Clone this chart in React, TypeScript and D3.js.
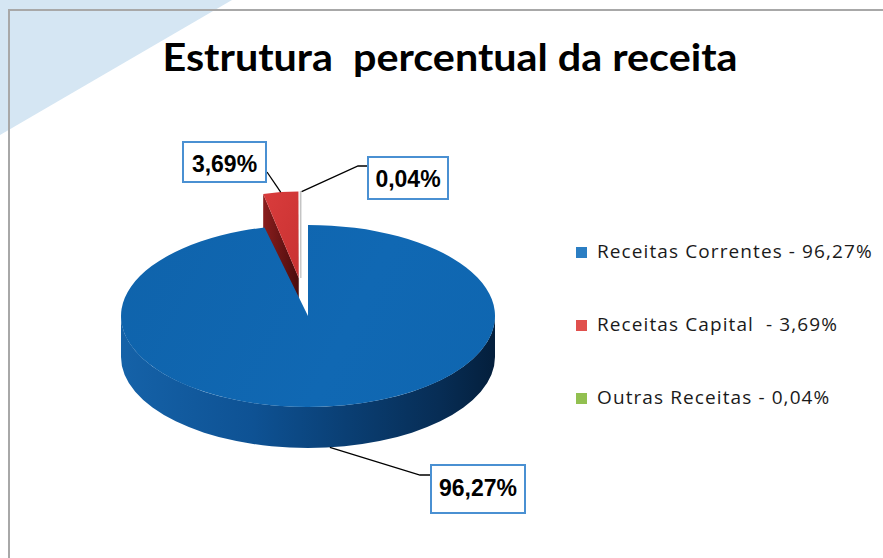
import React from 'react';
import * as d3 from 'd3';

const categories = ['Receitas Correntes', 'Receitas Capital', 'Outras Receitas'];
const values = [96.27, 3.69, 0.04];
const valueLabels = ['96,27%', '3,69%', '0,04%'];
const legendLabels = ['Receitas Correntes - 96,27%', 'Receitas Capital  - 3,69%', 'Outras Receitas - 0,04%'];
const exploded = [false, true, true];
const titleText = 'Estrutura  percentual da receita';

const W = 883, H = 558;
const CX = 308, CY = 316, RX = 187, RY = 91, DEPTH = 41;
const EXPLODE = 0.42;
const EXP_SX = 0.82, EXP_SY = 0.95, EXP_SD = 0.88;

const topColors = ['#0f66b0', '#d63b3b', '#eeeeee'];
const faceColors = ['#0b4a86', '#6e1414', '#bdbdbd'];
const legendColors = ['#2b7ec3', '#e0504d', '#92c050'];

const boxes = [
  { x: 431, y: 465, w: 94, h: 48, base: 496, elbow: [420, 475], end: [431, 475] },
  { x: 183, y: 142, w: 83, h: 40, base: 172, elbow: null, end: [267, 172] },
  { x: 368, y: 157, w: 80, h: 42, base: 187, elbow: [358, 166], end: [368, 166] },
];

type Geo = { cx: number; cy: number; rx: number; ry: number; d: number };

const pt = (g: Geo, a: number, dy = 0): [number, number] => [g.cx + g.rx * Math.sin(a), g.cy - g.ry * Math.cos(a) + dy];
const P = (p: [number, number]) => `${p[0].toFixed(2)},${p[1].toFixed(2)}`;

function topPath(g: Geo, a0: number, a1: number) {
  const large = a1 - a0 > Math.PI ? 1 : 0;
  return `M${g.cx},${g.cy}L${P(pt(g, a0))}A${g.rx},${g.ry} 0 ${large} 1 ${P(pt(g, a1))}Z`;
}
function wallPath(g: Geo, a0: number, a1: number) {
  const s = Math.max(a0, Math.PI / 2);
  const e = Math.min(a1, (3 * Math.PI) / 2);
  if (e <= s) return null;
  const large = e - s > Math.PI ? 1 : 0;
  return `M${P(pt(g, s))}A${g.rx},${g.ry} 0 ${large} 1 ${P(pt(g, e))}L${P(pt(g, e, g.d))}A${g.rx},${g.ry} 0 ${large} 0 ${P(pt(g, s, g.d))}Z`;
}
function facePath(g: Geo, a: number) {
  const p = pt(g, a);
  return `M${g.cx},${g.cy}L${P(p)}L${p[0]},${p[1] + g.d}L${g.cx},${g.cy + g.d}Z`;
}

export default function App() {
  const arcs = d3.pie<number>().sort(null).startAngle(0).endAngle(2 * Math.PI)(values);
  const expArcs = arcs.filter((_, i) => exploded[i]);
  const gStart = d3.min(expArcs, (a) => a.startAngle)!;
  const gEnd = d3.max(expArcs, (a) => a.endAngle)!;
  const gMid = (gStart + gEnd) / 2;
  const base: Geo = { cx: CX, cy: CY, rx: RX, ry: RY, d: DEPTH };
  const expGeo: Geo = {
    cx: CX + EXPLODE * RX * Math.sin(gMid),
    cy: CY - EXPLODE * RY * Math.cos(gMid),
    rx: RX * EXP_SX,
    ry: RY * EXP_SY,
    d: DEPTH * EXP_SD,
  };
  const geoOf = (i: number) => (exploded[i] ? expGeo : base);

  const renderSlice = (i: number) => {
    const a = arcs[i];
    const g = geoOf(i);
    const parts: React.ReactNode[] = [];
    const w = wallPath(g, a.startAngle, a.endAngle);
    if (w) parts.push(<path key="w" d={w} fill={i === 0 ? 'url(#sideBlue)' : faceColors[i]} />);
    if (Math.sin(a.startAngle) < -1e-6)
      parts.push(<path key="fs" d={facePath(g, a.startAngle)} fill={i === 1 ? 'url(#faceRed)' : faceColors[i]} />);
    if (Math.sin(a.endAngle) > 1e-6)
      parts.push(<path key="fe" d={facePath(g, a.endAngle)} fill={faceColors[i]} />);
    parts.push(
      <path
        key="t"
        d={topPath(g, a.startAngle, a.endAngle)}
        fill={i === 0 ? 'url(#topBlue)' : i === 1 ? 'url(#topRed)' : topColors[i]}
        stroke={i === 2 ? '#c4c4c4' : 'none'}
        strokeWidth={i === 2 ? 1.3 : 0}
        transform={i === 2 ? 'translate(2,0)' : undefined}
      />
    );
    return <g key={categories[i]}>{parts}</g>;
  };

  const anchors = arcs.map((a, i) => {
    const mid = (a.startAngle + a.endAngle) / 2;
    const g = geoOf(i);
    if (i === 0) return pt(g, mid, g.d);
    const p = pt(g, mid);
    return i === 2 ? ([p[0] + 3, p[1]] as [number, number]) : p;
  });

  return (
    <svg width={W} height={H} style={{ position: 'absolute', left: 0, top: 0, background: '#fff' }}>
      <defs>
        <linearGradient id="sideBlue" gradientUnits="userSpaceOnUse" x1={CX - RX} x2={CX + RX} y1={0} y2={0}>
          <stop offset="0" stopColor="#1562a8" />
          <stop offset="0.35" stopColor="#0e5294" />
          <stop offset="0.6" stopColor="#0a3f74" />
          <stop offset="0.85" stopColor="#072d55" />
          <stop offset="1" stopColor="#041f3c" />
        </linearGradient>
        <linearGradient id="topBlue" gradientUnits="userSpaceOnUse" x1={CX - RX} x2={CX + RX} y1={CY - RY} y2={CY + RY}>
          <stop offset="0" stopColor="#0f63ab" />
          <stop offset="0.6" stopColor="#1068b3" />
          <stop offset="1" stopColor="#0f66b0" />
        </linearGradient>
        <linearGradient id="topRed" x1="0" x2="1" y1="0" y2="1">
          <stop offset="0" stopColor="#d93c3c" />
          <stop offset="1" stopColor="#c93232" />
        </linearGradient>
        <linearGradient id="faceRed" x1="0" x2="1" y1="0" y2="0">
          <stop offset="0" stopColor="#8a1d1d" />
          <stop offset="1" stopColor="#4a0c0c" />
        </linearGradient>
      </defs>
      <rect x={0} y={0} width={W} height={H} fill="#ffffff" />
      <path d={`M0,0L232,0L0,135Z`} fill="#d5e6f3" />
      <rect x={9} y={10} width={W + 20} height={H + 20} fill="none" stroke="#a8a8a8" strokeWidth={2} />

      <text
        x={450}
        y={71}
        textAnchor="middle"
        fontFamily="Lato, 'Open Sans', sans-serif"
        fontWeight="bold"
        fontSize={38}
        fill="#000"
        textLength={575}
        lengthAdjust="spacingAndGlyphs"
        style={{ whiteSpace: 'pre' }}
      >
        {titleText}
      </text>

      {arcs.map((_, i) => (exploded[i] ? renderSlice(i) : null))}
      {arcs.map((_, i) => (!exploded[i] ? renderSlice(i) : null))}

      {boxes.map((b, i) => {
        const pts: [number, number][] = [anchors[i]];
        if (b.elbow) pts.push(b.elbow as [number, number]);
        pts.push(b.end as [number, number]);
        return (
          <g key={'lbl' + i}>
            <path d={d3.line()(pts)!} fill="none" stroke="#000" strokeWidth={1.3} />
            <rect x={b.x} y={b.y} width={b.w} height={b.h} fill="#fff" stroke="#4a90d2" strokeWidth={2} />
            <text
              x={b.x + b.w / 2}
              y={b.base}
              textAnchor="middle"
              fontFamily="'Liberation Sans', Arial, sans-serif"
              fontWeight="bold"
              fontSize={23}
              fill="#000"
            >
              {valueLabels[i]}
            </text>
          </g>
        );
      })}

      {legendLabels.map((l, i) => (
        <g key={'leg' + i} transform={`translate(576,${247 + i * 73})`}>
          <rect x={0} y={0} width={11} height={11} fill={legendColors[i]} />
          <text
            x={21}
            y={11}
            fontFamily="'Open Sans', sans-serif"
            fontSize={19}
            letterSpacing={1.1}
            fill="#1a1a1a"
            style={{ whiteSpace: 'pre' }}
          >
            {l}
          </text>
        </g>
      ))}
    </svg>
  );
}
